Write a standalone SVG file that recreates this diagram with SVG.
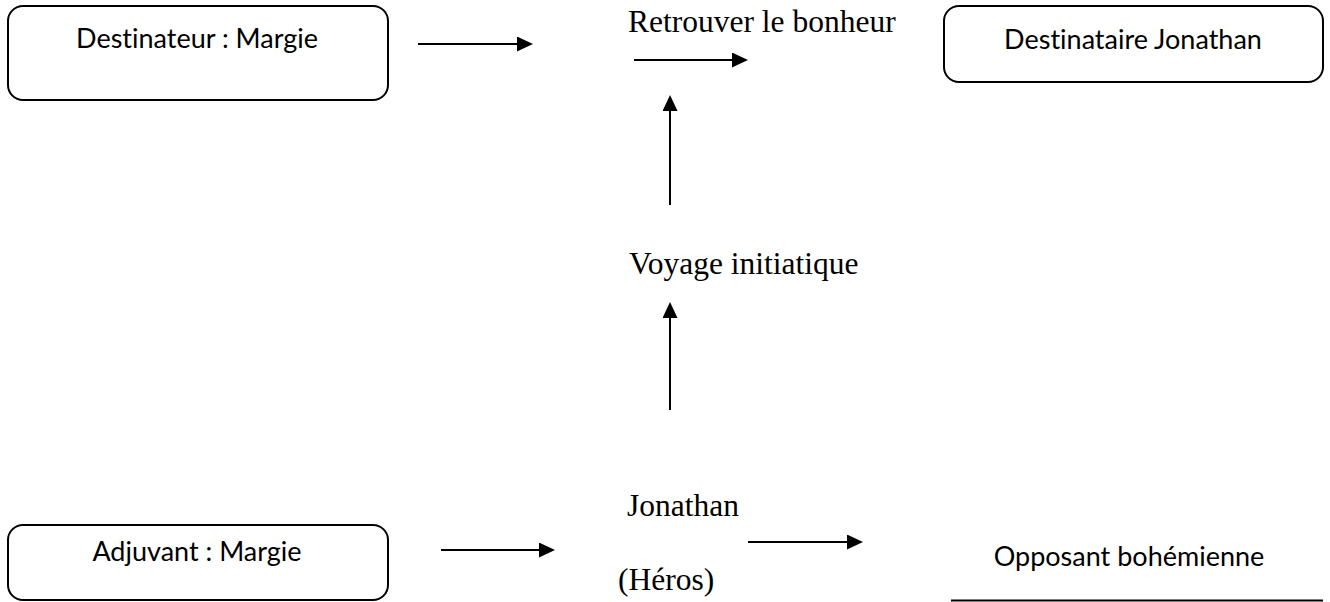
<svg xmlns="http://www.w3.org/2000/svg" width="1330" height="602" viewBox="0 0 1330 602">
  <style>
    .box { fill: #ffffff; stroke: #000000; stroke-width: 2; }
    .sans { font-family: Lato, "Open Sans", "Liberation Sans", sans-serif; font-size: 27px; fill: #000000; text-anchor: middle; font-variant-ligatures: none; font-feature-settings: "liga" 0, "dlig" 0; }
    .serif { font-family: "Liberation Serif", "DejaVu Serif", serif; font-size: 31.5px; fill: #000000; }
    .conn { stroke: #000000; stroke-width: 2; fill: none; marker-end: url(#arrow); }
  </style>
  <defs>
    <marker id="arrow" markerUnits="userSpaceOnUse" markerWidth="16" markerHeight="15" refX="0" refY="7.5" orient="auto">
      <path d="M0,0 L16,7.5 L0,15 z" fill="#000000"/>
    </marker>
  </defs>
  <rect width="1330" height="602" fill="#ffffff"/>

  <g id="destinateur">
    <rect class="box" x="8" y="6" width="380" height="94" rx="15" ry="15"/>
    <text class="sans" x="197" y="48">Destinateur : Margie</text>
  </g>

  <g id="destinataire">
    <rect class="box" x="944" y="6" width="379" height="76" rx="15" ry="15"/>
    <text class="sans" x="1133" y="49">Destinataire Jonathan</text>
  </g>

  <g id="adjuvant">
    <rect class="box" x="8" y="525" width="380" height="75" rx="15" ry="15"/>
    <text class="sans" x="197" y="561">Adjuvant : Margie</text>
  </g>

  <g id="opposant">
    <text class="sans" x="1129" y="566">Opposant bohémienne</text>
    <line x1="951" y1="600.5" x2="1323" y2="600.5" stroke="#000000" stroke-width="2"/>
  </g>

  <g id="objet">
    <text class="serif" x="628" y="32">Retrouver le bonheur</text>
  </g>

  <g id="voyage">
    <text class="serif" x="629" y="274">Voyage initiatique</text>
  </g>

  <g id="heros">
    <text class="serif" x="627" y="516">Jonathan</text>
    <text class="serif" x="618" y="590">(Héros)</text>
  </g>

  <g id="connectors">
    <line class="conn" x1="418" y1="44" x2="517" y2="44"/>
    <line class="conn" x1="634" y1="60" x2="732" y2="60"/>
    <line class="conn" x1="670" y1="205" x2="670" y2="111"/>
    <line class="conn" x1="670" y1="410" x2="670" y2="318"/>
    <line class="conn" x1="441" y1="550" x2="539" y2="550"/>
    <line class="conn" x1="748" y1="542" x2="847" y2="542"/>
  </g>
</svg>
